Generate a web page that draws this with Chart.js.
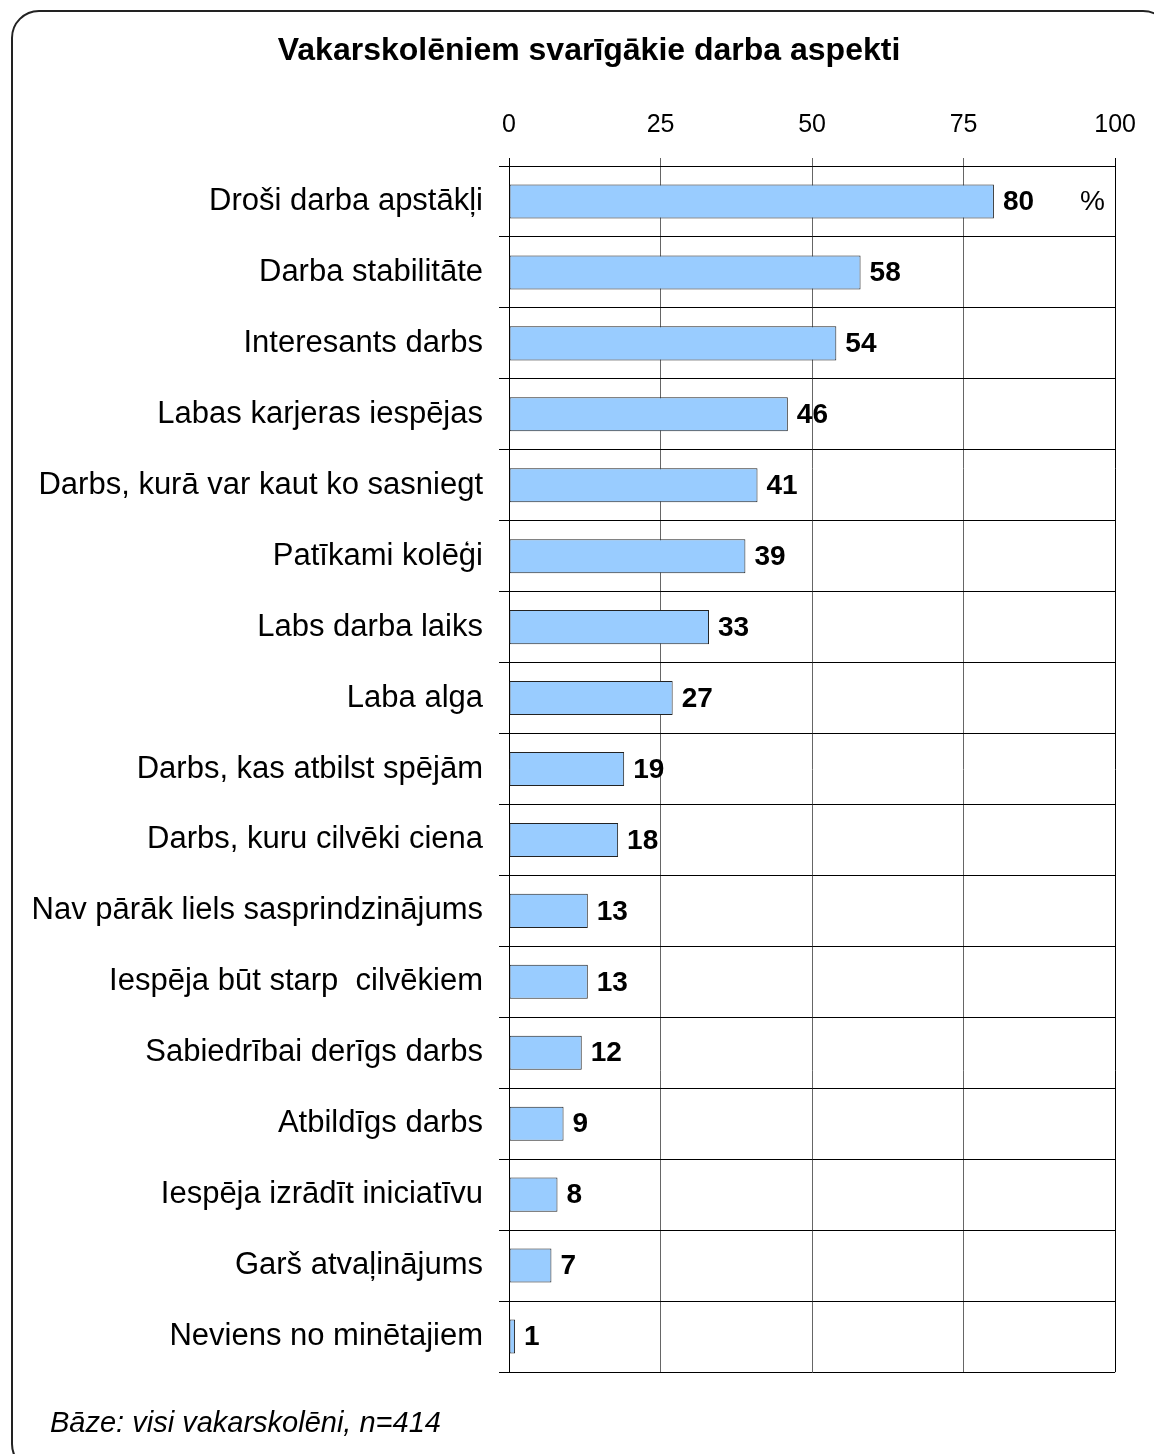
<!DOCTYPE html>
<html lang="lv">
<head>
<meta charset="utf-8">
<title>Vakarskolēniem svarīgākie darba aspekti</title>
<script src="https://cdn.jsdelivr.net/npm/chart.js@4/dist/chart.umd.min.js"></script>
<style>
  html, body { margin: 0; padding: 0; background: #fff; overflow: hidden; }
  #wrap { position: relative; width: 1154px; height: 1454px; overflow: hidden; }
  #frame {
    position: absolute; left: 11px; top: 10px; width: 1160px; height: 1462px;
    box-sizing: border-box; border: 2px solid #222; border-radius: 28px;
  }
  #chart { position: absolute; left: 0; top: 0; }
</style>
</head>
<body>
<div id="wrap">
  <div id="frame"></div>
  <canvas id="chart" width="1154" height="1454"></canvas>
</div>
<script>
// Data
const titleText = 'Vakarskolēniem svarīgākie darba aspekti';
const footerText = 'Bāze: visi vakarskolēni, n=414';
const unitText = '%';

const aspects = [
  'Droši darba apstākļi',
  'Darba stabilitāte',
  'Interesants darbs',
  'Labas karjeras iespējas',
  'Darbs, kurā var kaut ko sasniegt',
  'Patīkami kolēģi',
  'Labs darba laiks',
  'Laba alga',
  'Darbs, kas atbilst spējām',
  'Darbs, kuru cilvēki ciena',
  'Nav pārāk liels sasprindzinājums',
  'Iespēja būt starp  cilvēkiem',
  'Sabiedrībai derīgs darbs',
  'Atbildīgs darbs',
  'Iespēja izrādīt iniciatīvu',
  'Garš atvaļinājums',
  'Neviens no minētajiem'
];

const shares = [80, 58, 54, 46, 41, 39, 33, 27, 19, 18, 13, 13, 12, 9, 8, 7, 1];

const axisTicks = [0, 25, 50, 75, 100];

// Labels, title and footer drawn on the canvas
const textPlugin = {
  id: 'textPlugin',
  afterDatasetsDraw(chart) {
    const ctx = chart.ctx;
    ctx.save();
    ctx.fillStyle = '#000';

    // value labels next to each bar
    ctx.font = 'bold 28px "Liberation Sans", Arial, sans-serif';
    ctx.textAlign = 'left';
    ctx.textBaseline = 'middle';
    const meta = chart.getDatasetMeta(0);
    meta.data.forEach((bar, i) => {
      ctx.fillText(String(shares[i]), bar.x + 9, bar.y + 1);
    });

    // unit sign
    ctx.font = '28px "Liberation Sans", Arial, sans-serif';
    ctx.fillText(unitText, 1080, 202);

    // title
    ctx.font = 'bold 32px "Liberation Sans", Arial, sans-serif';
    ctx.textAlign = 'center';
    ctx.textBaseline = 'alphabetic';
    ctx.fillText(titleText, 589, 60);

    // footer
    ctx.font = 'italic 29px "Liberation Sans", Arial, sans-serif';
    ctx.textAlign = 'left';
    ctx.fillText(footerText, 50, 1432);
    ctx.restore();
  }
};

const chart = new Chart(document.getElementById('chart'), {
  type: 'bar',
  data: {
    labels: aspects,
    datasets: [{
      data: shares,
      backgroundColor: '#99ccff',
      borderColor: '#222',
      borderWidth: 1,
      borderSkipped: false,
      categoryPercentage: 1,
      barPercentage: 0.48
    }]
  },
  options: {
    indexAxis: 'y',
    responsive: false,
    animation: false,
    layout: {
      padding: { left: 0, right: 37, top: 0, bottom: 82 }
    },
    plugins: {
      legend: { display: false },
      tooltip: { enabled: false }
    },
    scales: {
      x: {
        position: 'top',
        min: 0,
        max: 100,
        afterBuildTicks: function(scale) {
          scale.ticks = axisTicks.map(v => ({ value: v }));
        },
        afterFit: function(scale) {
          scale.height = 166;
        },
        ticks: {
          color: '#000',
          padding: 18,
          maxRotation: 0,
          font: { family: '"Liberation Sans", Arial, sans-serif', size: 25 }
        },
        grid: {
          tickLength: 8,
          lineWidth: 1,
          color: function(context) {
            const v = context.tick ? context.tick.value : null;
            return (v === 0 || v === 100) ? '#000' : '#666';
          }
        },
        border: { display: true, color: '#000', width: 1 }
      },
      y: {
        afterFit: function(scale) {
          scale.width = 509;
        },
        ticks: {
          color: '#000',
          padding: 16,
          font: { family: '"Liberation Sans", Arial, sans-serif', size: 31 }
        },
        grid: {
          offset: true,
          tickLength: 10,
          lineWidth: 1,
          color: '#000'
        },
        border: { display: true, color: '#000', width: 1 }
      }
    }
  },
  plugins: [textPlugin]
});
</script>
</body>
</html>
